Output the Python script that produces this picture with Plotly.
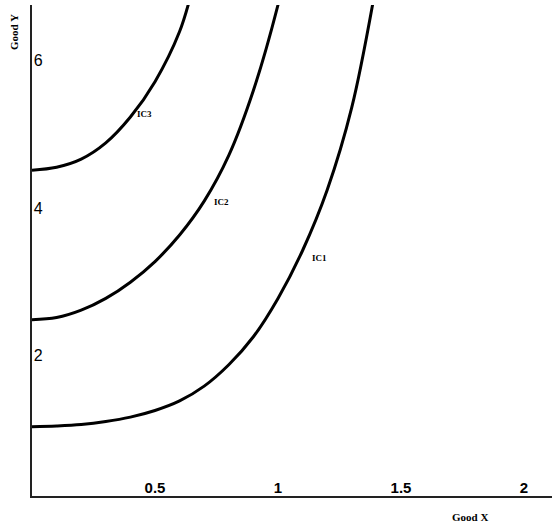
import plotly.graph_objects as go

# Indifference curves
ic1_x = [0.0, 0.1, 0.2, 0.3, 0.4, 0.5, 0.6, 0.7, 0.8, 0.9, 1.0, 1.1, 1.2, 1.3, 1.4]
ic1_y = [0.94, 0.95, 0.97, 1.01, 1.07, 1.16, 1.29, 1.49, 1.78, 2.16, 2.68, 3.33, 4.15, 5.27, 6.95]

ic2_x = [0.0, 0.1, 0.2, 0.3, 0.4, 0.5, 0.6, 0.7, 0.8, 0.9, 1.0, 1.05]
ic2_y = [2.39, 2.42, 2.52, 2.68, 2.90, 3.18, 3.54, 4.00, 4.62, 5.50, 6.66, 7.40]

ic3_x = [0.0, 0.1, 0.2, 0.3, 0.4, 0.5, 0.6, 0.65]
ic3_y = [4.42, 4.46, 4.57, 4.79, 5.14, 5.62, 6.30, 6.85]

curve_names = ["IC1", "IC2", "IC3"]
label_x = [1.13, 0.732, 0.419]
label_y = [3.23, 3.99, 5.18]

x_ticks = [0.5, 1, 1.5, 2]
x_ticktext = ["0.5", "1", "1.5", "2"]
y_ticks = [2, 4, 6]
y_ticktext = ["2", "4", "6"]

fig = go.Figure()
for xs, ys, nm in [(ic1_x, ic1_y, "IC1"), (ic2_x, ic2_y, "IC2"), (ic3_x, ic3_y, "IC3")]:
    fig.add_trace(go.Scatter(x=xs, y=ys, mode="lines", name=nm,
                             line=dict(color="black", width=3, shape="spline", smoothing=1.0),
                             showlegend=False, hoverinfo="skip"))

for nm, lx, ly in zip(curve_names, label_x, label_y):
    fig.add_annotation(x=lx, y=ly, xref="x", yref="y", text=nm, showarrow=False,
                       xanchor="left", yanchor="middle",
                       font=dict(family="Liberation Serif", size=9, color="black", weight="bold"))

fig.add_annotation(x=(470 - 32) / 520, y=(496 - 517) / 491, xref="paper", yref="paper",
                   text="Good X", showarrow=False, xanchor="center", yanchor="middle",
                   font=dict(family="Liberation Serif", size=11, color="black", weight="bold"))
fig.add_annotation(x=(14 - 32) / 520, y=(496 - 32) / 491, xref="paper", yref="paper",
                   text="Good Y", showarrow=False, xanchor="center", yanchor="middle", textangle=-90,
                   font=dict(family="Liberation Serif", size=11, color="black", weight="bold"))

fig.update_layout(
    width=560, height=532, autosize=False,
    margin=dict(l=32, r=8, t=5, b=36),
    plot_bgcolor="white", paper_bgcolor="white",
    xaxis=dict(range=[0, 2.114], tickvals=x_ticks, ticktext=x_ticktext,
               ticklabelposition="inside", ticks="", showgrid=False, zeroline=False,
               showline=True, linecolor="#222", linewidth=2, fixedrange=True,
               tickfont=dict(family="Liberation Sans", size=15, color="black", weight="bold")),
    yaxis=dict(range=[0, 6.66], tickvals=y_ticks, ticktext=y_ticktext,
               ticklabelposition="inside", ticklabelshift=7, ticklabelstandoff=2,
               ticks="", showgrid=False, zeroline=False,
               showline=True, linecolor="#222", linewidth=2, fixedrange=True,
               tickfont=dict(family="Liberation Sans", size=16, color="black")),
)

fig.write_html("out.html")
